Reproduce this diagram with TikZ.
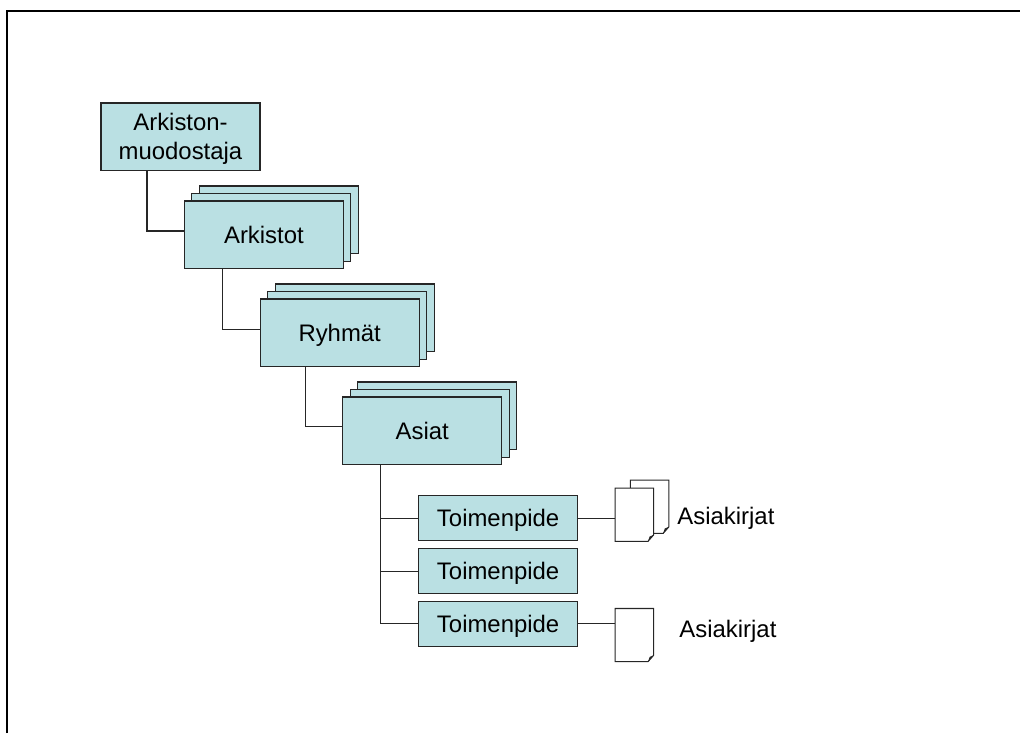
\documentclass[tikz,border=0pt]{standalone}
\usepackage{fontspec}
\setmainfont{Liberation Sans}
\usepackage{xcolor}
\usepackage{tikz}
\usetikzlibrary{positioning,calc,shadows}
\definecolor{boxblue}{RGB}{186,224,227}

\begin{document}
\begin{tikzpicture}[
    level/.style={rectangle, draw=black!85, line width=0.75pt, fill=boxblue, outer sep=0pt, minimum width=3.975cm, minimum height=1.69cm, text centered, align=center, font=\fontsize{17}{20.5}\selectfont},
    stack/.style={level, text height=0.43cm, text depth=0pt, double copy shadow={shadow xshift=0.1875cm, shadow yshift=0.1875cm}},
    action/.style={level, text height=0.43cm, text depth=0pt, minimum height=1.125cm},
    sheet/.style={rectangle, outer sep=0pt, minimum width=0.96cm, minimum height=1.33cm},
    label/.style={inner sep=0pt, text height=0.43cm, text depth=0pt, font=\fontsize{17}{20.5}\selectfont},
    link/.style={line width=0.75pt, black!85}
]
\useasboundingbox (0,0) rectangle (25.5,-18.325);
\draw[line width=0.05cm] (0.175,-18.325) -- (0.175,-0.275) -- (25.5,-0.275);

\node[level, anchor=north west, text height=1.14cm, text depth=0pt] (ark) at (2.525,-2.575) {Arkiston-\\muodostaja};
\node[stack, below right=0.76cm and -1.89cm of ark] (arkistot) {Arkistot};
\node[stack, below right=0.76cm and -2.08cm of arkistot] (ryhmat) {Ryhmät};
\node[stack, below right=0.76cm and -1.91cm of ryhmat] (asiat) {Asiat};

\node[action, below right=0.78cm and -2.08cm of asiat] (t1) {Toimenpide};
\node[action, below=0.2cm of t1] (t2) {Toimenpide};
\node[action, below=0.19cm of t2] (t3) {Toimenpide};

\node[sheet, right=0.94cm of t1, yshift=0.09cm] (d1) {};
\node[sheet] (d2) at ($(d1)+(0.38,0.2)$) {};
\node[sheet, right=0.94cm of t3, yshift=-0.28cm] (d3) {};

% sheets with the folded corner
\foreach \d in {d2,d1,d3} {
  \draw[link, fill=white] (\d.north west) -- (\d.north east) -- ($(\d.south east)+(0,0.16)$) -- ($(\d.south east)+(-0.14,0)$) -- (\d.south west) -- cycle;
  \fill[black!85] ($(\d.south east)+(0,0.16)$) -- ($(\d.south east)+(-0.14,0)$) -- ($(\d.south east)+(-0.1,0.12)$) -- cycle;
}

\node[label, right=0.59cm of d1, yshift=-0.04cm] (a1) {Asiakirjat};
\node[label, right=0.64cm of d3, yshift=0.16cm] (a3) {Asiakirjat};

\coordinate[right=1.15cm of ark.south west] (o1);
\coordinate[right=0.95cm of arkistot.south west] (o2);
\coordinate[right=1.125cm of ryhmat.south west] (o3);
\coordinate[right=0.95cm of asiat.south west] (o4);
\coordinate[above=0.095cm of arkistot.west] (i1);
\coordinate[above=0.09cm of ryhmat.west] (i2);
\coordinate[above=0.1cm of asiat.west] (i3);

\draw[link] (o1) |- (i1);
\draw[link] (o2) |- (i2);
\draw[link] (o3) |- (i3);
\draw[link] (o4) |- (t1.west);
\draw[link] (o4) |- (t2.west);
\draw[link] (o4) |- (t3.west);
\draw[link] (t1.east) -- (t1 -| d1.west);
\draw[link] (t3.east) -- (t3 -| d3.west);

\end{tikzpicture}
\end{document}
